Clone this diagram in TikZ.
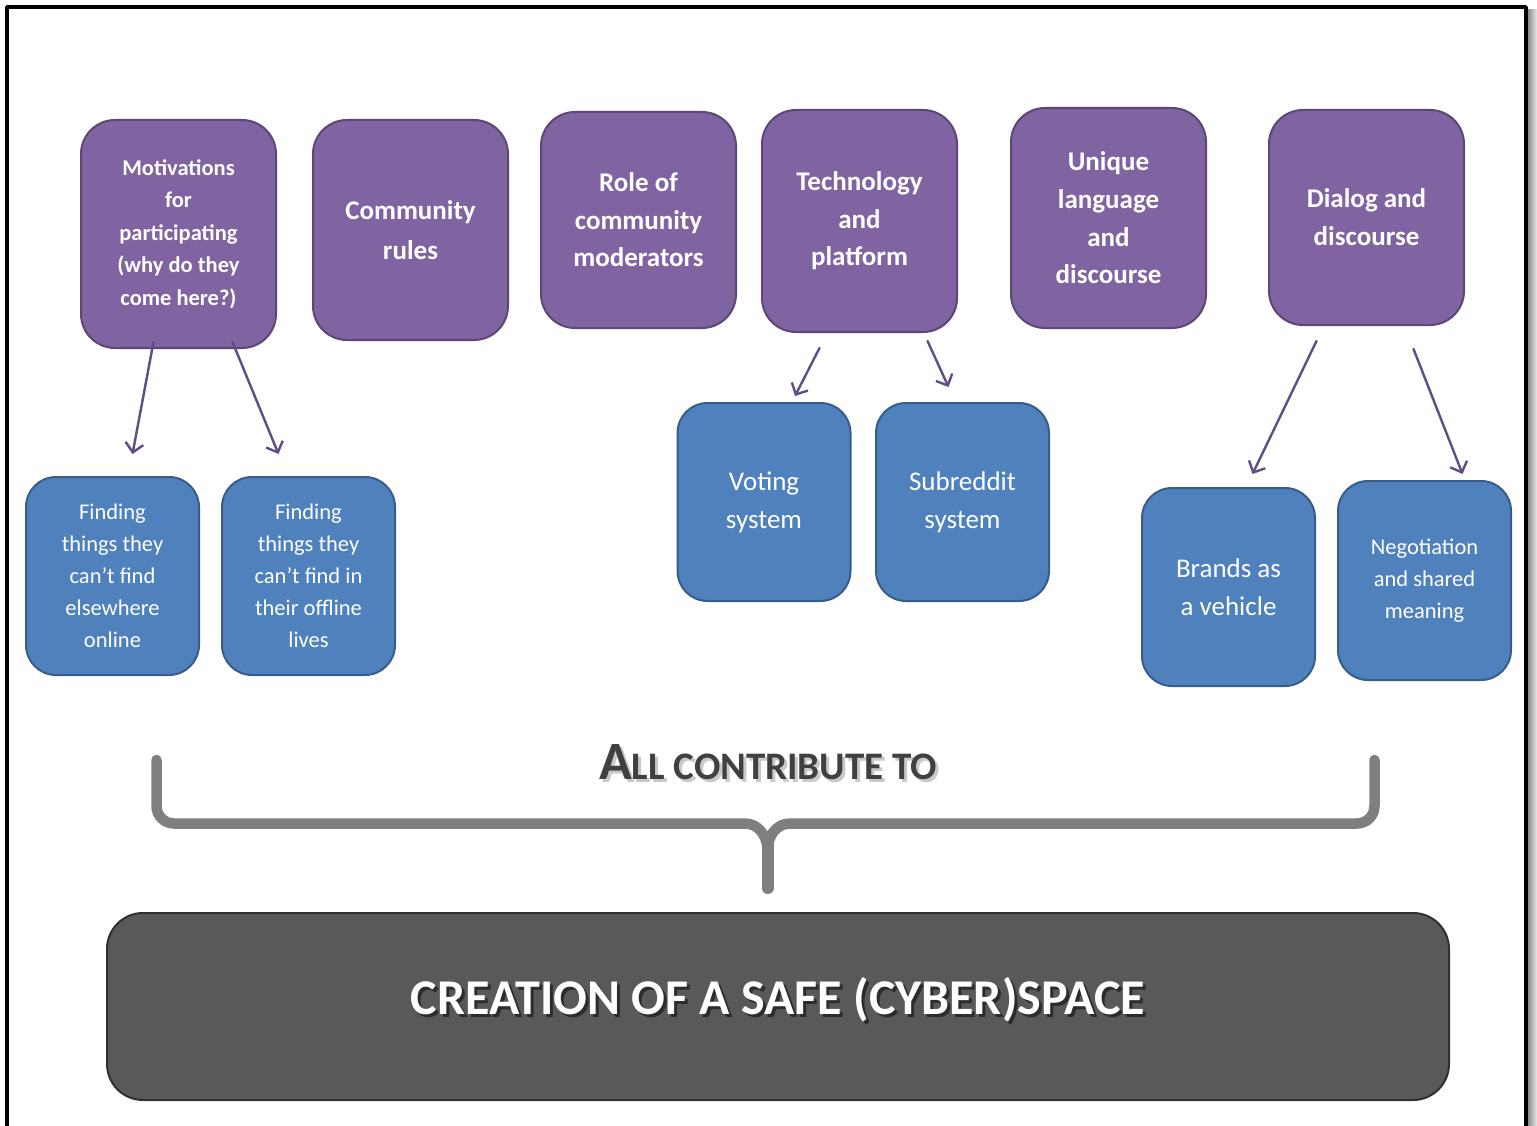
\documentclass[tikz,border=0pt]{standalone}
\usepackage{fontspec}
\setmainfont{Carlito}
\usetikzlibrary{arrows.meta}

\definecolor{purplefill}{HTML}{8064A2}
\definecolor{purpleline}{HTML}{5C4776}
\definecolor{bluefill}{HTML}{4F81BD}
\definecolor{blueline}{HTML}{385D8A}
\definecolor{arrowpurple}{HTML}{5E4D86}
\definecolor{darkfill}{HTML}{595959}
\definecolor{darkline}{HTML}{303030}
\definecolor{bracegray}{HTML}{7F7F7F}
\definecolor{headgray}{HTML}{404040}

\begin{document}
\begin{tikzpicture}[x=1pt,y=-1pt,line cap=round,line join=round,
  topic/.style={draw=purpleline,line width=2pt,fill=purplefill,rounded corners=34pt,
    minimum width=195pt,text=white,align=center},
  leaf/.style={draw=blueline,line width=2pt,fill=bluefill,rounded corners=30pt,
    minimum width=173pt,minimum height=198pt,text=white,align=center},
  arr/.style={draw=arrowpurple,line width=2.4pt,-{Straight Barb[length=9pt,width=18pt]}}]
\useasboundingbox (0,0) rectangle (1537,1126);
% page frame with its shadow
\fill[left color=black!45,right color=black!8] (1528,10) rectangle (1537,1126);
\draw[line width=3.5pt,line cap=butt] (7,1126) -- (7,7) -- (1526,7) -- (1526,1126);

% top row
\node[topic,minimum height=228pt,font=\bfseries\fontsize{22.5}{32.5}\selectfont] (motiv) at (178.5,234)
  {Motivations\\for\\participating\\(why do they\\come here?)};
\node[topic,minimum height=220pt,font=\bfseries\fontsize{27}{40}\selectfont] (rules) at (410.5,230)
  {Community\\rules};
\node[topic,minimum height=216pt,font=\bfseries\fontsize{27}{37.5}\selectfont] (mods) at (638.5,220)
  {Role of\\community\\moderators};
\node[topic,minimum height=222pt,font=\bfseries\fontsize{27}{37.5}\selectfont] (tech) at (859.5,221)
  {Technology\\and\\platform};
\node[topic,minimum height=220pt,font=\bfseries\fontsize{27}{37.7}\selectfont] (lang) at (1108.5,218)
  {Unique\\language\\and\\discourse};
\node[topic,minimum height=215pt,font=\bfseries\fontsize{27}{38}\selectfont] (dialog) at (1366.5,217.5)
  {Dialog and\\discourse};

% second row
\node[leaf,font=\fontsize{22.5}{32}\selectfont] (online) at (112.5,576)
  {Finding\\things they\\can’t find\\elsewhere\\online};
\node[leaf,font=\fontsize{22.5}{32}\selectfont] (offline) at (308.5,576)
  {Finding\\things they\\can’t find in\\their offline\\lives};
\node[leaf,font=\fontsize{27}{38}\selectfont] (voting) at (764,502) {Voting\\system};
\node[leaf,font=\fontsize{27}{38}\selectfont] (subreddit) at (962.5,502) {Subreddit\\system};
\node[leaf,font=\fontsize{27}{38}\selectfont] (brands) at (1228.5,587) {Brands as\\a vehicle};
\node[leaf,minimum height=199pt,font=\fontsize{22.5}{32}\selectfont] (nego) at (1424.5,580.5)
  {Negotiation\\and shared\\meaning};

% arrows
\draw[arr] ([xshift=-25pt,yshift=7pt]motiv.south) -- ([xshift=20pt,yshift=22pt]online.north);
\draw[arr] ([xshift=54pt,yshift=7pt]motiv.south) -- ([xshift=-30pt,yshift=22pt]offline.north);
\draw[arr] ([xshift=-40pt,yshift=-15pt]tech.south) -- ([xshift=31pt,yshift=6pt]voting.north);
\draw[arr] ([xshift=68pt,yshift=-8pt]tech.south) -- ([xshift=-14pt,yshift=15pt]subreddit.north);
\draw[arr] ([xshift=-50pt,yshift=-15pt]dialog.south) -- ([xshift=24pt,yshift=13pt]brands.north);
\draw[arr] ([xshift=47pt,yshift=-23pt]dialog.south) -- ([xshift=38pt,yshift=6pt]nego.north);

% brace
\node[font=\bfseries\fontsize{39}{39}\selectfont,text=black!30,opacity=.7] (headshadow) at (771,765)
  {{\fontsize{54}{54}\selectfont A}LL CONTRIBUTE TO};
\node[font=\bfseries\fontsize{39}{39}\selectfont,text=headgray] (head) at (768,762)
  {{\fontsize{54}{54}\selectfont A}LL CONTRIBUTE TO};
\draw[bracegray,line width=10.5pt]
  (156.5,760) -- (156.5,806) to[out=-90,in=180] (174,823.5) -- (745,823.5)
  to[out=0,in=90] (767.5,850) to[out=90,in=180] (790,823.5) -- (1357,823.5)
  to[out=0,in=-90] (1374.5,806) -- (1374.5,760);
\draw[bracegray,line width=12pt] (767.5,845) -- (767.5,888);

% result
\node[draw=darkline,line width=2pt,fill=darkfill,rounded corners=36pt,
  minimum width=1342pt,minimum height=187pt] (safe) at (778,1006.5) {};
\node[font=\bfseries\fontsize{50}{50}\selectfont,text=black,opacity=.5] (safeshadow) at (781,1003)
  {CREATION OF A SAFE (CYBER)SPACE};
\node[font=\bfseries\fontsize{50}{50}\selectfont,text=white] (safetext) at (778,1000)
  {CREATION OF A SAFE (CYBER)SPACE};
\end{tikzpicture}
\end{document}
